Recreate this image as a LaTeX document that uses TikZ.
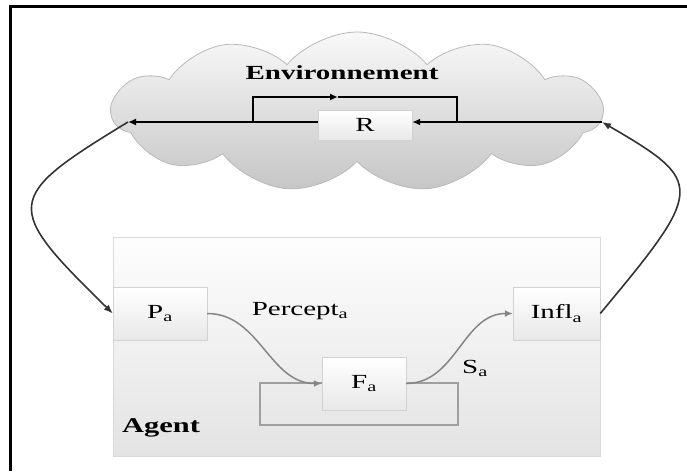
\documentclass[tikz,border=0pt]{standalone}
\usepackage{fontspec}
\setmainfont[FakeStretch=1.45]{Liberation Serif}
\usetikzlibrary{shapes.symbols,arrows.meta}
\begin{document}
\begin{tikzpicture}[x=1pt,y=-1pt,
  font=\fontsize{20}{24}\selectfont,
  box/.style={draw=gray!35, top color=white, bottom color=gray!18, inner sep=0pt},
  blk/.style={black, line width=1.8pt},
  blkarrow/.style={blk, -{Latex[length=8pt,width=7pt]}},
  grayarrow/.style={draw=gray!95, line width=1.5pt, -{Latex[length=8pt,width=7pt]}},
  bigarrow/.style={draw=black!80, line width=1.6pt, -{Latex[length=9pt,width=7pt]}}]
\useasboundingbox (0,0) rectangle (687,471);
\draw[line width=3pt] (10,471) -- (10,6) -- (687,6);

% environment cloud
\node[cloud, cloud puffs=11, cloud puff arc=100, aspect=3.06,
      minimum width=490pt, minimum height=160pt, inner sep=0pt,
      draw=gray!55, line width=0.8pt, top color=gray!5, bottom color=gray!45] (env) at (357,112) {};
\node[font=\fontsize{20}{24}\selectfont\bfseries] (envlabel) at (342,73) {Environnement};
\node[box, minimum width=94pt, minimum height=30pt] (R) at (365,125) {R};
\coordinate (cl) at (128,122);
\coordinate (cr) at (602,122);
\coordinate (l1) at (253,122);
\coordinate (l2) at (457,122);
\coordinate (ltopA) at (253,97);
\coordinate (ltopM) at (338,97);
\coordinate (ltopB) at (457,97);
\draw[blkarrow] (R.west |- cl) -- (cl);
\draw[blkarrow] (cr) -- (R.east |- cr);
\draw[blkarrow] (l1) -- (ltopA) -- (ltopM);
\draw[blk] (ltopM) -- (ltopB) -- (l2);

% agent
\node[draw=gray!30, top color=gray!1, bottom color=gray!22, line width=0.8pt,
      minimum width=487pt, minimum height=219pt, inner sep=0pt] (agent) at (356.5,346.5) {};
\node[font=\fontsize{21}{24}\selectfont\bfseries] (agentlabel) at (161,428) {Agent};
\draw[draw=gray!75, line width=1.6pt] (260,383) rectangle (458,425);
\node[box, minimum width=94pt, minimum height=53pt] (Pa) at (160,313.5) {P\textsubscript{a}};
\node[box, minimum width=87pt, minimum height=53pt] (Infl) at (556.5,313.5) {Infl\textsubscript{a}};
\node[box, minimum width=84pt, minimum height=53pt] (Fa) at (364,383.5) {F\textsubscript{a}};
\node (percept) at (300,311) {Percept\textsubscript{a}};
\node (sa) at (475,368) {S\textsubscript{a}};
\draw[grayarrow] (Pa.east) to[out=0,in=180] (Fa.west);
\draw[grayarrow] (Fa.east) to[out=0,in=180] (Infl.west);

% big loops
\draw[bigarrow] (cl) .. controls (3,198) and (3,206) .. (Pa.west);
\draw[bigarrow] (Infl.east) .. controls (705,188) and (705,182) .. (cr);
\end{tikzpicture}
\end{document}
